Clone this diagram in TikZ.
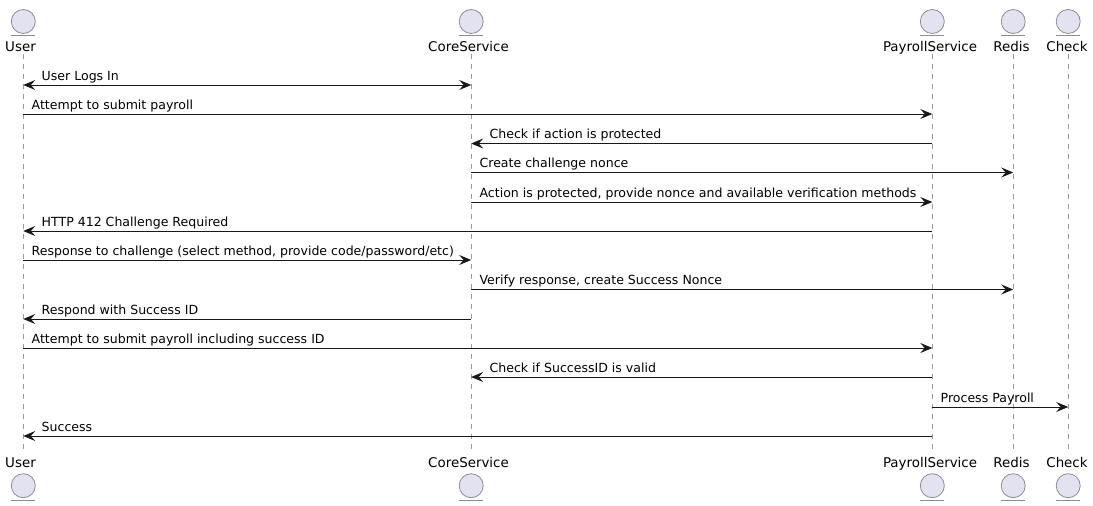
\documentclass[tikz,border=0pt]{standalone}
\usepackage{fontspec}
\setmainfont{DejaVu Sans}
\usetikzlibrary{arrows.meta}
\definecolor{headfill}{HTML}{E2E2F0}
\definecolor{headline}{HTML}{8C8C96}
\definecolor{lifeline}{HTML}{9A9A9A}
\definecolor{msgline}{HTML}{181818}
\tikzset{
	head/.style={circle, draw=headline, fill=headfill, line width=0.8pt, minimum size=24pt, inner sep=0pt},
	headbar/.style={draw=headline, line width=0.8pt},
	actor/.style={anchor=base, inner sep=0pt, text height=10pt, text depth=3pt, font=\fontsize{13.4}{16}\selectfont},
	life/.style={draw=lifeline, line width=0.7pt, dash pattern=on 5pt off 5pt, shorten >=4pt},
	msg/.style={draw=msgline, line width=0.8pt, >={Stealth[length=12pt, width=10pt, inset=4.5pt]}},
	txt/.style={anchor=base west, inner sep=0pt, yshift=5pt, font=\fontsize{12.55}{14}\selectfont, pos=0},
}
\begin{document}
\begin{tikzpicture}[x=1pt, y=-1pt]
	\path[use as bounding box] (0, 0) rectangle (1093, 506);
	% participants, top and bottom
	\foreach \who/\txtname/\xpos/\xname in {user/User/23.3/20.5, core/CoreService/471.2/468.5, payroll/PayrollService/932.3/930, redis/Redis/1013.2/1011.5, check/Check/1068.2/1067} {
		\node[head] (\who) at (\xpos, 21.5) {};
		\node[head] (\who F) at (\xpos, 485.7) {};
		\node[actor] (\who T) at (\xname, 51) {\txtname};
		\node[actor] (\who B) at (\xname, 467) {\txtname};
		\draw[headbar] ([xshift=-12pt, yshift=-1.5pt]\who.south) -- ([xshift=12pt, yshift=-1.5pt]\who.south);
		\draw[headbar] ([xshift=-12pt, yshift=-2.3pt]\who F.south) -- ([xshift=12pt, yshift=-2.3pt]\who F.south);
		\draw[life] (\who |- \who T.south) -- (\who |- \who B.north);
	}
	% messages
	\draw[msg, <->] (user |- 0,85) -- (core |- 0,85) node[txt, xshift=18pt] (m1) {User Logs In};
	\draw[msg, ->] (user |- 0,114) -- (payroll |- 0,114) node[txt, xshift=8pt] (m2) {Attempt to submit payroll};
	\draw[msg, <-] (core |- 0,143.5) -- (payroll |- 0,143.5) node[txt, xshift=18pt] (m3) {Check if action is protected};
	\draw[msg, ->] (core |- 0,172.5) -- (redis |- 0,172.5) node[txt, xshift=8pt] (m4) {Create challenge nonce};
	\draw[msg, ->] (core |- 0,202) -- (payroll |- 0,202) node[txt, xshift=8pt] (m5) {Action is protected, provide nonce and available verification methods};
	\draw[msg, <-] (user |- 0,231) -- (payroll |- 0,231) node[txt, xshift=18pt] (m6) {HTTP 412 Challenge Required};
	\draw[msg, ->] (user |- 0,260) -- (core |- 0,260) node[txt, xshift=8pt] (m7) {Response to challenge (select method, provide code/password/etc)};
	\draw[msg, ->] (core |- 0,289.5) -- (redis |- 0,289.5) node[txt, xshift=8pt] (m8) {Verify response, create Success Nonce};
	\draw[msg, <-] (user |- 0,319) -- (core |- 0,319) node[txt, xshift=18pt] (m9) {Respond with Success ID};
	\draw[msg, ->] (user |- 0,348) -- (payroll |- 0,348) node[txt, xshift=8pt] (m10) {Attempt to submit payroll including success ID};
	\draw[msg, <-] (core |- 0,377) -- (payroll |- 0,377) node[txt, xshift=18pt] (m11) {Check if SuccessID is valid};
	\draw[msg, ->] (payroll |- 0,407) -- (check |- 0,407) node[txt, xshift=8pt] (m12) {Process Payroll};
	\draw[msg, <-] (user |- 0,436) -- (payroll |- 0,436) node[txt, xshift=18pt] (m13) {Success};
\end{tikzpicture}
\end{document}
